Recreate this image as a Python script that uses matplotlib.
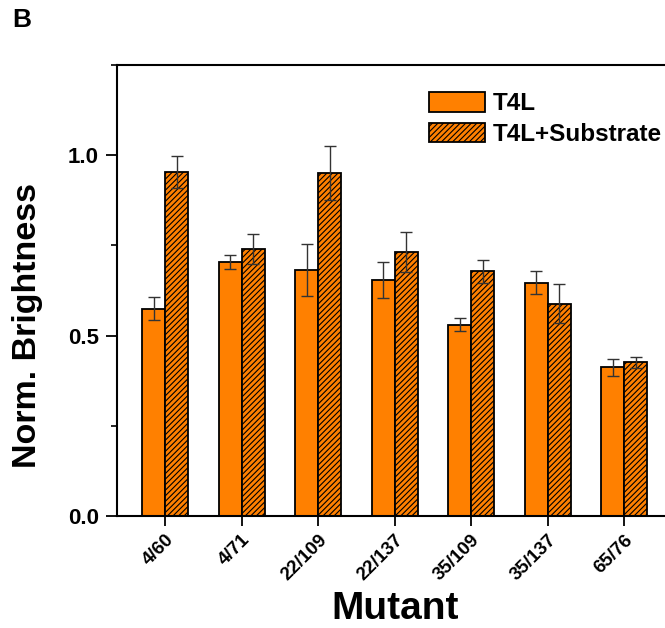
import numpy as np
import matplotlib
matplotlib.use('Agg')
import matplotlib.pyplot as plt
from matplotlib.ticker import MultipleLocator
from matplotlib.transforms import ScaledTranslation

plt.rcParams['font.family'] = ['Liberation Sans', 'DejaVu Sans']
plt.rcParams['font.weight'] = 'bold'
plt.rcParams['hatch.linewidth'] = 0.8

mutants = ['4/60', '4/71', '22/109', '22/137', '35/109', '35/137', '65/76']
t4l = [0.575, 0.704, 0.683, 0.654, 0.531, 0.647, 0.412]
t4l_err = [0.032, 0.019, 0.072, 0.049, 0.019, 0.032, 0.024]
t4l_sub = [0.954, 0.740, 0.951, 0.732, 0.679, 0.589, 0.426]
t4l_sub_err = [0.044, 0.041, 0.075, 0.056, 0.032, 0.054, 0.016]

orange = '#FF8000'
x = np.arange(len(mutants))
w = 0.3

fig = plt.figure(figsize=(6.65, 6.28), dpi=100)
ax = fig.add_axes([0.176, 0.178, 0.835, 0.7185])

ax.bar(x - w / 2, t4l, w, color=orange, edgecolor='black', linewidth=1.3,
       label='T4L')
ax.bar(x + w / 2, t4l_sub, w, color=orange, edgecolor='black', linewidth=1.3,
       hatch='//////', label='T4L+Substrate')
ax.errorbar(x - w / 2, t4l, yerr=t4l_err, fmt='none', ecolor='#333333',
            elinewidth=1, capsize=4.5, capthick=1)
ax.errorbar(x + w / 2, t4l_sub, yerr=t4l_sub_err, fmt='none', ecolor='#333333',
            elinewidth=1, capsize=4.5, capthick=1)

ax.set_xlim(-0.63, 6.63)
ax.set_ylim(0, 1.25)
ax.set_yticks([0.0, 0.5, 1.0])
ax.set_yticklabels(['0.0', '0.5', '1.0'], fontsize=16, fontweight='bold')
ax.yaxis.set_minor_locator(MultipleLocator(0.25))
ax.set_xticks(x)
ax.set_xticklabels(mutants, rotation=45, fontsize=13.5, fontweight='bold',
                   ha='right', va='top', rotation_mode='anchor')
shift = ScaledTranslation(0.07, -0.01, fig.dpi_scale_trans)
for lab in ax.get_xticklabels():
    lab.set_transform(lab.get_transform() + shift)
ax.tick_params(axis='y', which='major', direction='out', length=8, width=1.3, pad=5)
ax.tick_params(axis='y', which='minor', direction='out', length=4.5, width=1.2)
ax.tick_params(axis='x', direction='out', length=7, width=1.3, pad=4)
for s in ax.spines.values():
    s.set_linewidth(1.5)

ax.set_ylabel('Norm. Brightness', fontsize=24.5, fontweight='bold')
ax.yaxis.set_label_coords(-0.133, 0.423)
ax.set_xlabel('Mutant', fontsize=28, fontweight='bold')
ax.xaxis.set_label_coords(0.501, -0.166)

ax.legend(loc='upper left', bbox_to_anchor=(429 / 665, 1 - 92 / 628),
          bbox_transform=fig.transFigure, frameon=False, borderpad=0,
          borderaxespad=0, prop={'size': 17.5, 'weight': 'bold'},
          handlelength=2.3, handleheight=0.86, labelspacing=0.32,
          handletextpad=0.33)

fig.text(0.018, 0.968, 'B', fontsize=19, fontweight='bold', va='center')

fig.savefig('out.png', dpi=100)
